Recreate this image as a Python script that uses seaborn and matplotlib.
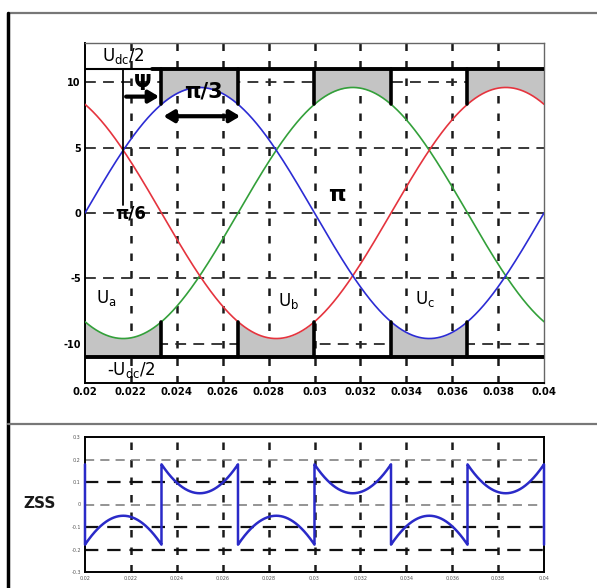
import numpy as np
import pandas as pd
import matplotlib
matplotlib.use("Agg")
import matplotlib.pyplot as plt
import seaborn as sns

# ---------------- data ----------------
t_start, t_end = 0.02, 0.04          # time window (s)
freq_hz = 50                          # grid frequency
amplitude = 9.6                       # phase voltage amplitude
phase_labels = ["Ua", "Ub", "Uc"]
phase_colors = ["#33a03a", "#e5343e", "#2c2cd4"]
phase_shift_deg = [-120, 120, 0]      # phase of each sine at t = 0.02
udc_half = 11                         # +/- Udc/2 levels drawn in top panel
zss_clamp = 10.1                      # clamp level used for the ZSS panel
x_ticks = [0.02, 0.022, 0.024, 0.026, 0.028, 0.03, 0.032, 0.034, 0.036, 0.038, 0.04]
x_tick_labels = ["0.02", "0.022", "0.024", "0.026", "0.028", "0.03",
                 "0.032", "0.034", "0.036", "0.038", "0.04"]
y_ticks = [-10, -5, 0, 5, 10]
zss_ticks = [-3, -2, -1, 0, 1, 2, 3]
zss_tick_labels = ["-0.3", "-0.2", "-0.1", "0", "0.1", "0.2", "0.3"]

# ---------------- build curves ----------------
t = np.linspace(t_start - 0.00001, t_end + 0.00001, 20001)
theta = 2 * np.pi * freq_hz * (t - t_start)
waves = {lab: amplitude * np.sin(theta + np.deg2rad(ph))
         for lab, ph in zip(phase_labels, phase_shift_deg)}
W = np.vstack([waves[l] for l in phase_labels])
vmax, vmin = W.max(axis=0), W.min(axis=0)
top_clamp = (vmax + vmin) > 0
zss = np.where(top_clamp, zss_clamp - vmax, -zss_clamp - vmin)

df = pd.DataFrame({"t": np.tile(t, 3),
                   "v": np.concatenate([waves[l] for l in phase_labels]),
                   "phase": np.repeat(phase_labels, len(t))})
dz = pd.DataFrame({"t": t, "zss": zss})

# ---------------- figure ----------------
sns.set_theme(style="white")
plt.rcParams["font.family"] = ["DejaVu Sans"]
plt.rcParams["text.color"] = "black"
plt.rcParams["xtick.color"] = "black"
plt.rcParams["ytick.color"] = "black"
fig = plt.figure(figsize=(5.97, 5.88), dpi=100)

ax = fig.add_axes([85 / 597, 1 - 383 / 588, (544 - 85) / 597, (383 - 43) / 588])
ax2 = fig.add_axes([85 / 597, 1 - 572 / 588, (544 - 85) / 597, (572 - 437) / 588])

# outer frame
fig.add_artist(plt.Line2D([8 / 597, 1.0], [1 - 13 / 588, 1 - 13 / 588],
                          transform=fig.transFigure, color="#777777", lw=1.6))
fig.add_artist(plt.Line2D([8 / 597, 8 / 597], [1 - 13 / 588, 0.0],
                          transform=fig.transFigure, color="black", lw=2.5))
fig.add_artist(plt.Line2D([8 / 597, 1.0], [1 - 424 / 588, 1 - 424 / 588],
                          transform=fig.transFigure, color="#777777", lw=1.6))

# ---------- top panel ----------
ax.set_xlim(t_start, t_end)
ax.set_ylim(-13, 13)
for xv in x_ticks[1:-1]:
    ax.axvline(xv, color="#1a1a1a", lw=1.8, ls=(0, (3, 4)), zorder=1)
for yv in y_ticks:
    ax.axhline(yv, color="#2a2a2a", lw=1.3, ls=(0, (6, 4)), zorder=1)

for lab in phase_labels:
    v = waves[lab]
    is_max = np.isclose(v, vmax)
    is_min = np.isclose(v, vmin)
    ax.fill_between(t, v, udc_half, where=is_max & top_clamp,
                    color="#c4c4c4", lw=0, zorder=2)
    ax.fill_between(t, v, -udc_half, where=is_min & ~top_clamp,
                    color="#c4c4c4", lw=0, zorder=2)

sns.lineplot(data=df, x="t", y="v", hue="phase", palette=phase_colors,
             hue_order=phase_labels, lw=1.2, legend=False, ax=ax, zorder=4,
             sort=False, estimator=None)

# sector boundaries (thick vertical bars)
idx = np.where(np.diff(top_clamp.astype(int)) != 0)[0]
for i in idx:
    tb = t[i]
    if t_start + 0.0001 < tb < t_end - 0.0001:
        ax.plot([tb, tb], [vmax[i], udc_half], color="black", lw=2.6, zorder=5)
        ax.plot([tb, tb], [vmin[i], -udc_half], color="black", lw=2.6, zorder=5)

ax.plot([t_start, 0.0229], [udc_half, udc_half], color="black", lw=1.5, zorder=5)
ax.plot([0.0229, t_end], [udc_half, udc_half], color="black", lw=2.8, zorder=5)
ax.plot([t_start, t_end], [-udc_half, -udc_half], color="black", lw=2.8, zorder=5)

# annotations
ax.plot([0.02167, 0.02167], [udc_half, 0.6], color="black", lw=1.3, zorder=5)
ax.annotate("", xy=(0.02335, 8.9), xytext=(0.02167, 8.9),
            arrowprops=dict(arrowstyle="-|>,head_length=0.5,head_width=0.3",
                            color="black", lw=3), zorder=6)
ax.annotate("", xy=(0.02688, 7.4), xytext=(0.0233, 7.4),
            arrowprops=dict(arrowstyle="<|-|>,head_length=0.5,head_width=0.3",
                            color="black", lw=3), zorder=6)
ax.text(0.02253, 9.85, "Ψ", fontsize=15, fontweight="bold", ha="center",
        va="center", zorder=7)
ax.text(0.02514, 9.3, "π/3", fontsize=15, fontweight="bold", ha="center",
        va="center", zorder=7)
ax.text(0.0220, 0.0, "π/6", fontsize=12, fontweight="bold", ha="center",
        va="center", zorder=7)
ax.text(0.03098, 1.38, "π", fontsize=16, fontweight="bold", ha="center",
        va="center", zorder=7)
ax.text(0.02074, 12.0, r"$\mathregular{U_{dc}}$/2", fontsize=12, ha="left",
        va="center", zorder=7)
ax.text(0.02096, -12.0, r"-$\mathregular{U_{dc}}$/2", fontsize=12, ha="left",
        va="center", zorder=7)
for lab, xl, yl in zip(phase_labels, [0.02091, 0.02889, 0.03481], [-6.5, -6.7, -6.6]):
    ax.text(xl, yl, r"$\mathregular{U_{%s}}$" % lab[1], fontsize=12,
            ha="center", va="center", zorder=7)

ax.set_xticks(x_ticks)
ax.set_xticklabels(x_tick_labels, fontsize=7.3, fontweight="bold")
ax.set_yticks(y_ticks)
ax.set_yticklabels([str(v) for v in y_ticks], fontsize=7, fontweight="bold")
ax.tick_params(length=0, pad=3)
ax.set_xlabel("")
ax.set_ylabel("")
for s in ["top", "right"]:
    ax.spines[s].set_color("#666666")
    ax.spines[s].set_linewidth(1.0)
for s in ["left", "bottom"]:
    ax.spines[s].set_color("black")
    ax.spines[s].set_linewidth(1.4)

# ---------- bottom panel ----------
ax2.set_xlim(t_start, t_end)
ax2.set_ylim(-3, 3)
for xv in x_ticks[1:-1]:
    ax2.axvline(xv, color="#1a1a1a", lw=1.8, ls=(0, (3, 4)), zorder=1)
for yv, col, lw in zip([2, 1, 0, -1, -2],
                       ["#777777", "#111111", "#777777", "#111111", "#111111"],
                       [1.1, 1.6, 1.1, 1.6, 1.6]):
    ax2.axhline(yv, color=col, lw=lw, ls=(0, (6, 4)), zorder=1)
sns.lineplot(data=dz, x="t", y="zss", color="#2a2ac8", lw=1.8, ax=ax2,
             zorder=4, sort=False, estimator=None)
for ln in ax2.get_lines()[-1:]:
    ln.set_clip_on(False)
ax2.set_xticks(x_ticks)
ax2.set_xticklabels(x_tick_labels, fontsize=3.5, color="#555555")
ax2.set_yticks(zss_ticks)
ax2.set_yticklabels(zss_tick_labels, fontsize=3.5, color="#555555")
ax2.tick_params(length=0, pad=3)
ax2.set_xlabel("")
ax2.set_ylabel("")
for s in ax2.spines.values():
    s.set_color("black")
    s.set_linewidth(1.4)
    s.set_zorder(3)

fig.text(40 / 597, 1 - 503 / 588, "ZSS", fontsize=11, fontweight="bold",
         ha="center", va="center", color="#1a1a1a")

fig.savefig("out.png", dpi=100)
